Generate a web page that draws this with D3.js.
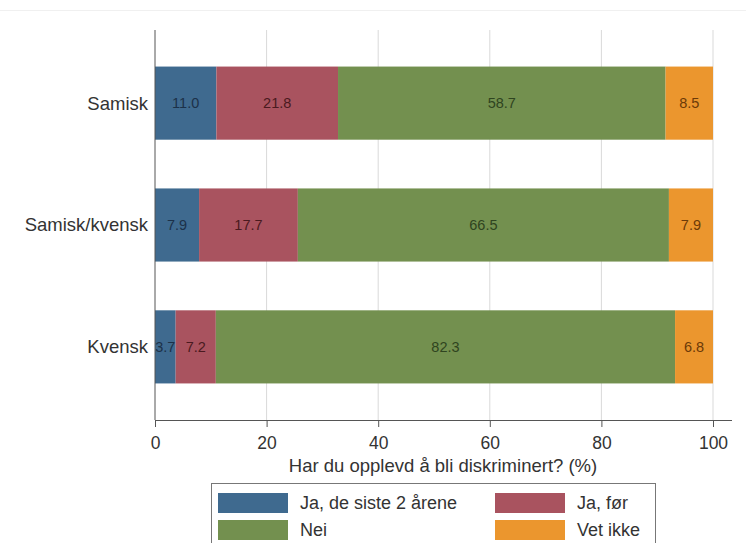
<!DOCTYPE html>
<html>
<head>
<meta charset="utf-8">
<script src="https://cdn.jsdelivr.net/npm/d3@7"></script>
<style>
  body { margin: 0; background: #fff; }
  svg { font-family: "Liberation Sans", Arial, sans-serif; }
</style>
</head>
<body>
<div id="chart"></div>
<script>
// Data
const groups = ["Samisk", "Samisk/kvensk", "Kvensk"];
const seriesNames = ["Ja, de siste 2 årene", "Ja, før", "Nei", "Vet ikke"];
const jaSiste2 = [11.0, 7.9, 3.7];
const jaFor = [21.8, 17.7, 7.2];
const nei = [58.7, 66.5, 82.3];
const vetIkke = [8.5, 7.9, 6.8];
const xTicks = [0, 20, 40, 60, 80, 100];

const fills = ["#3f6a8f", "#a9535f", "#73904f", "#eb962e"];
const textColors = ["#1c3149", "#4a1a20", "#2f4420", "#6b3a08"];

const width = 746, height = 543;
const plotLeft = 155, plotRight = 713, plotTop = 30, plotBottom = 420;

const svg = d3.select("#chart").append("svg")
    .attr("width", width)
    .attr("height", height);

// faint top border line like the source image
svg.append("line")
    .attr("x1", 0).attr("x2", width).attr("y1", 10.5).attr("y2", 10.5)
    .attr("stroke", "#f0f0f0");

const x = d3.scaleLinear().domain([0, 100]).range([plotLeft, plotRight]);
const y = d3.scaleBand().domain(groups).range([plotTop, plotBottom])
    .paddingInner(0.4).paddingOuter(0.3);

// gridlines
svg.append("g").selectAll("line")
    .data(xTicks.filter(d => d > 0))
    .enter().append("line")
    .attr("x1", d => x(d)).attr("x2", d => x(d))
    .attr("y1", plotTop).attr("y2", plotBottom)
    .attr("stroke", "#d9d9d9")
    .attr("stroke-width", 1);

// stack data
const rows = groups.map((g, i) => ({
    group: g,
    values: [jaSiste2[i], jaFor[i], nei[i], vetIkke[i]]
}));

rows.forEach(r => {
    let acc = 0;
    r.segs = r.values.map((v, k) => {
        const s = { group: r.group, k: k, v: v, x0: acc, x1: acc + v };
        acc += v;
        return s;
    });
});

const segs = rows.flatMap(r => r.segs);

svg.append("g").selectAll("rect")
    .data(segs)
    .enter().append("rect")
    .attr("x", d => x(d.x0))
    .attr("width", d => x(d.x1) - x(d.x0))
    .attr("y", d => y(d.group))
    .attr("height", y.bandwidth())
    .attr("fill", d => fills[d.k]);

svg.append("g").selectAll("text")
    .data(segs)
    .enter().append("text")
    .attr("x", d => x((d.x0 + d.x1) / 2))
    .attr("y", d => y(d.group) + y.bandwidth() / 2)
    .attr("dy", "0.35em")
    .attr("text-anchor", "middle")
    .style("font-size", "14.5px")
    .attr("fill", d => textColors[d.k])
    .text(d => d.v.toFixed(1));

// y axis line
svg.append("line")
    .attr("x1", plotLeft).attr("x2", plotLeft)
    .attr("y1", plotTop).attr("y2", plotBottom)
    .attr("stroke", "#555");

// y labels
svg.append("g").selectAll("text")
    .data(groups)
    .enter().append("text")
    .attr("x", plotLeft - 7)
    .attr("y", d => y(d) + y.bandwidth() / 2)
    .attr("dy", "0.35em")
    .attr("text-anchor", "end")
    .style("font-size", "18.5px")
    .attr("fill", "#333")
    .text(d => d);

// x axis
const xAxis = svg.append("g")
    .attr("transform", `translate(0,${plotBottom})`)
    .call(d3.axisBottom(x).tickValues(xTicks).tickSize(7).tickSizeOuter(0));
xAxis.select(".domain").attr("d", `M${plotLeft},0.5H732`).attr("stroke", "#555");
xAxis.selectAll(".tick line").attr("stroke", "#555");
xAxis.selectAll(".tick text")
    .attr("y", 23)
    .attr("dy", "0.35em")
    .style("font-size", "17.5px")
    .style("font-family", "Liberation Sans, Arial, sans-serif")
    .attr("fill", "#333");

// x title
svg.append("text")
    .attr("x", 443)
    .attr("y", 472)
    .attr("text-anchor", "middle")
    .style("font-size", "18.5px")
    .attr("fill", "#333")
    .text("Har du opplevd å bli diskriminert? (%)");

// legend
const legend = svg.append("g");
legend.append("rect")
    .attr("x", 211.5).attr("y", 483.5)
    .attr("width", 444).attr("height", 70)
    .attr("fill", "#fff")
    .attr("stroke", "#777");

const legPos = [
    { sx: 218, tx: 300, sy: 493 },
    { sx: 495, tx: 577, sy: 493 },
    { sx: 218, tx: 300, sy: 520 },
    { sx: 495, tx: 577, sy: 520 }
];

const items = legend.selectAll("g.item")
    .data(seriesNames)
    .enter().append("g")
    .attr("class", "item");

items.append("rect")
    .attr("x", (d, i) => legPos[i].sx)
    .attr("y", (d, i) => legPos[i].sy)
    .attr("width", 70)
    .attr("height", 20)
    .attr("fill", (d, i) => fills[i]);

items.append("text")
    .attr("x", (d, i) => legPos[i].tx)
    .attr("y", (d, i) => legPos[i].sy + 10)
    .attr("dy", "0.35em")
    .style("font-size", "18px")
    .attr("fill", "#333")
    .text(d => d);
</script>
</body>
</html>
